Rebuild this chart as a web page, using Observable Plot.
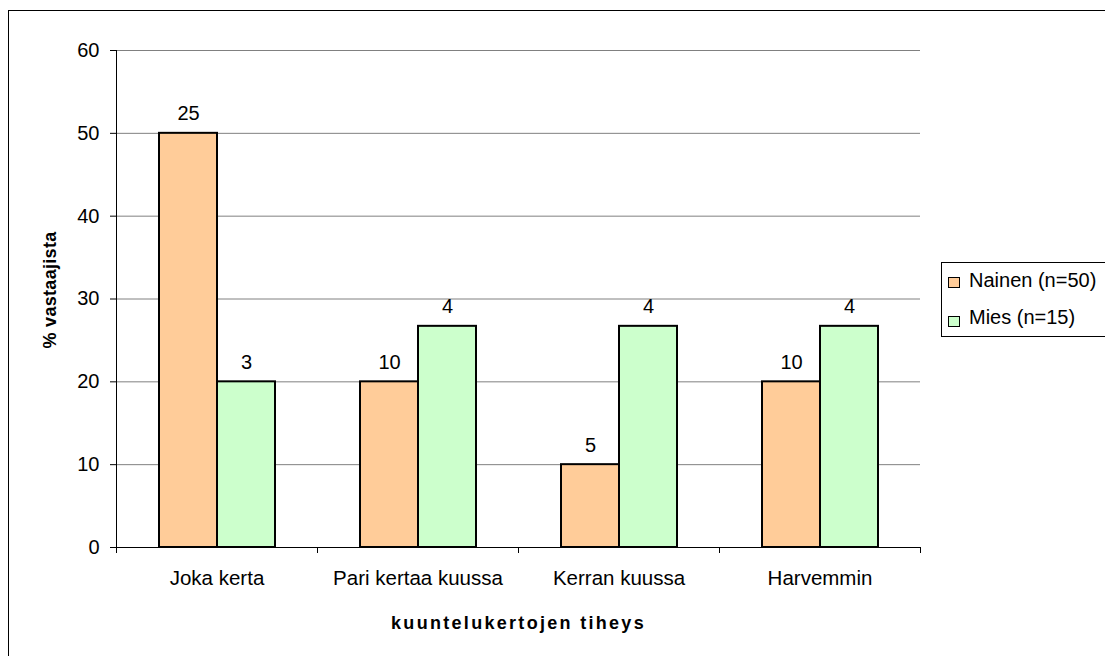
<!DOCTYPE html>
<html><head><meta charset="utf-8">
<script src="https://cdn.jsdelivr.net/npm/d3@7"></script>
<script src="https://cdn.jsdelivr.net/npm/@observablehq/plot@0.6"></script>
<style>
html,body{margin:0;padding:0;background:#fff;overflow:hidden;width:1105px;height:656px;}
#wrap{position:relative;width:1105px;height:656px;font-family:"Liberation Sans",Arial,sans-serif;}
#border{position:absolute;left:8px;top:10px;width:1300px;height:900px;border:1px solid #000;box-sizing:border-box;}
#chart{position:absolute;left:0;top:0;}
#legend{position:absolute;left:941px;top:262px;width:300px;height:75px;border:1px solid #000;box-sizing:border-box;background:#fff;}
.sw{position:absolute;left:6px;width:12px;height:11px;border:1.5px solid #000;box-sizing:border-box;}
.lt{position:absolute;left:27px;font-size:20px;line-height:20px;white-space:nowrap;color:#000;}
</style></head>
<body><div id="wrap"><div id="border"></div><div id="chart"></div><div id="legend"></div></div>
<script>
const categories = ["Joka kerta", "Pari kertaa kuussa", "Kerran kuussa", "Harvemmin"];
const series = ["Nainen (n=50)", "Mies (n=15)"];
const nainenPct = [50, 20, 10, 20];
const miesPct = [20, 26.7, 26.7, 26.7];
const nainenN = [25, 10, 5, 10];
const miesN = [3, 4, 4, 4];
const yTicks = [0, 10, 20, 30, 40, 50, 60];
const colors = ["#FFCC99", "#CCFFCC"];
const yTitle = "% vastaajista";
const xTitle = "kuuntelukertojen tiheys";

const data = categories.flatMap((c, i) => [
  {category: c, series: series[0], pct: nainenPct[i], n: nainenN[i]},
  {category: c, series: series[1], pct: miesPct[i], n: miesN[i]}
]);

const plot = Plot.plot({
  width: 1105, height: 656,
  marginLeft: 115, marginRight: 184, marginTop: 50, marginBottom: 109,
  style: {fontFamily: '"Liberation Sans", Arial, sans-serif', fontSize: "20px", color: "#000", background: "transparent", overflow: "visible"},
  fx: {domain: categories, padding: 0, label: null},
  x: {domain: series, paddingInner: 0, paddingOuter: 0.718, axis: null},
  y: {domain: [0, 60], label: null},
  color: {domain: series, range: colors},
  marks: [
    Plot.gridY(yTicks.slice(1), {stroke: "#808080", strokeOpacity: 1, strokeWidth: 1}),
    Plot.barY(data, {fx: "category", x: "series", y: "pct", fill: "series", stroke: "#000", strokeWidth: 2}),
    Plot.text(data, {fx: "category", x: "series", y: "pct", text: "n", lineAnchor: "bottom", dy: -13, fontSize: 20, fill: "#000"}),
    Plot.ruleY([0], {stroke: "#000", strokeWidth: 1}),
    Plot.frame({anchor: "left", facetAnchor: "left", stroke: "#000", strokeWidth: 1}),
    Plot.axisY({ticks: yTicks, tickSize: 6, tickPadding: 11, label: null, stroke: "#000", strokeOpacity: 1}),
    Plot.axisFx({anchor: "bottom", tickSize: 6, tickFormat: () => "", dx: -100.5, label: null, stroke: "#000"}),
    Plot.axisFx({anchor: "bottom", tickSize: 6, tickFormat: () => "", dx: 100.5, label: null, stroke: "#000"}),
    Plot.axisFx({anchor: "bottom", tickSize: 0, tickPadding: 23, label: null, fontSize: 20.5}),
    Plot.text([yTitle], {frameAnchor: "left", facetAnchor: "left", textAnchor: "middle", rotate: -90, dx: -66, dy: -9, fontWeight: "bold", fontSize: 18, fill: "#000"}),
    Plot.text([xTitle], {facet: "super", frameAnchor: "bottom", dy: 81, fontWeight: "bold", fontSize: 18, fill: "#000"})
  ]
});
d3.select(plot).selectAll("text").filter(function() { return this.textContent === xTitle; }).style("letter-spacing", "2.3px");
d3.select(plot).selectAll("text").filter(function() { return this.textContent === yTitle; }).style("letter-spacing", "0.3px");
document.getElementById("chart").appendChild(plot);

const legend = d3.select("#legend");
series.forEach((s, i) => {
  legend.append("div").attr("class", "sw").style("top", (14 + i * 39) + "px").style("background", colors[i]);
  legend.append("div").attr("class", "lt").style("top", (7 + i * 37) + "px").text(s);
});
</script></body></html>
